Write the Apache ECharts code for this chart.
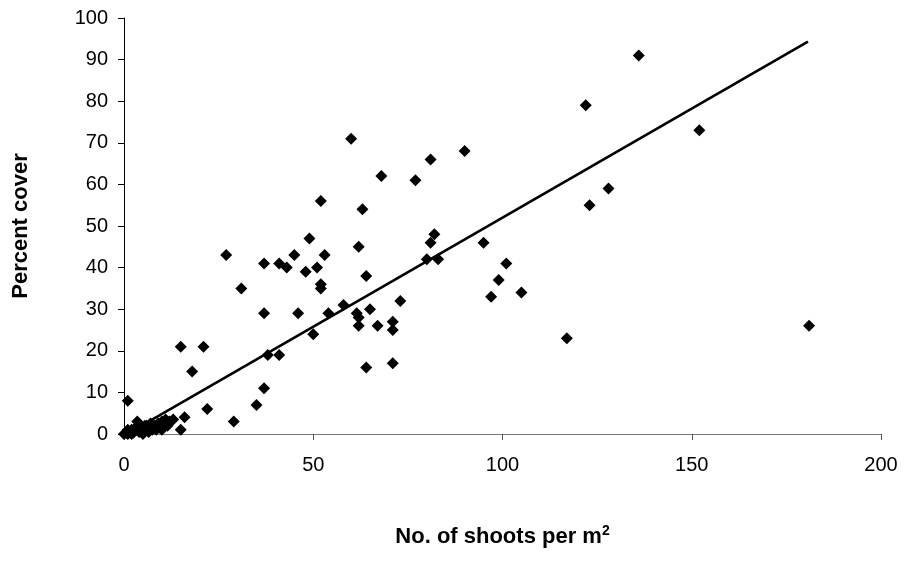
<!DOCTYPE html>
<html>
<head>
<meta charset="utf-8">
<script src="https://cdn.jsdelivr.net/npm/echarts@6/dist/echarts.min.js"></script>
<style>html,body{margin:0;padding:0;background:#fff}#c{width:904px;height:561px}</style>
</head>
<body>
<div id="c"></div>
<script>
// shoots per m2 (x) and percent cover (y)
var shootsX = [
  0, 0.5, 1, 1, 1.5, 2, 2, 2.5, 3, 3.5, 4, 4, 4.5, 5, 5, 5.5, 6, 6, 6.5, 7, 7, 7.5, 8, 8.5, 9, 9.5, 10, 10, 11, 11.5, 12, 13,
  1, 15, 16, 15, 18, 21, 22, 29, 27, 31, 35, 37, 37, 37, 38, 41, 41, 43, 45, 46, 48, 49, 50, 51, 52, 52, 52, 53, 54, 58,
  60, 61.5, 62, 62, 62, 63, 64, 64, 65, 67, 68, 71, 71, 71, 73, 77, 80, 81, 81, 82, 83, 90, 95, 97, 99, 101, 105,
  117, 122, 123, 128, 136, 152, 181
];
var coverY = [
  0, 0.3, 0, 1, 0.5, 0, 1, 0.3, 1.5, 3, 0.5, 2, 1, 0, 1.5, 2, 1, 2, 0.5, 1.5, 2.5, 1, 2, 1, 2.5, 1.5, 3, 1, 3.5, 2, 3, 3.5,
  8, 21, 4, 1, 15, 21, 6, 3, 43, 35, 7, 41, 29, 11, 19, 41, 19, 40, 43, 29, 39, 47, 24, 40, 56, 36, 35, 43, 29, 31,
  71, 29, 45, 28, 26, 54, 38, 16, 30, 26, 62, 27, 25, 17, 32, 61, 42, 66, 46, 48, 42, 68, 46, 33, 37, 41, 34,
  23, 79, 55, 59, 91, 73, 26
];
// fitted trend line end points
var trendX = [1, 180.7];
var trendY = [0.1, 94.3];
var xTicks = [0, 50, 100, 150, 200];
var yTicks = [0, 10, 20, 30, 40, 50, 60, 70, 80, 90, 100];

var pts = shootsX.map(function (x, i) { return [x, coverY[i]]; });
var trend = trendX.map(function (x, i) { return [x, trendY[i]]; });
var FF = 'Liberation Sans, Arial, sans-serif';

var chart = echarts.init(document.getElementById('c'), null, {renderer: 'canvas'});
chart.setOption({
  animation: false,
  backgroundColor: '#fff',
  grid: {left: 124, right: 23, top: 18, bottom: 127, containLabel: false},
  xAxis: {
    type: 'value', min: xTicks[0], max: xTicks[xTicks.length - 1], interval: 50,
    name: '{a|No. of shoots per m}{s|2}',
    nameLocation: 'middle', nameGap: 90,
    nameTextStyle: {
      rich: {
        a: {fontFamily: FF, fontWeight: 'bold', fontSize: 22, color: '#000'},
        s: {fontFamily: FF, fontWeight: 'bold', fontSize: 14, color: '#000', verticalAlign: 'top', padding: [0, 0, 12, 0]}
      }
    },
    axisLine: {show: true, onZero: false, lineStyle: {color: '#777', width: 1}},
    axisTick: {show: true, length: 6, lineStyle: {color: '#555'}},
    axisLabel: {fontFamily: FF, fontSize: 20, color: '#000', margin: 21},
    splitLine: {show: false}
  },
  yAxis: {
    type: 'value', min: yTicks[0], max: yTicks[yTicks.length - 1], interval: 10,
    name: 'Percent cover', nameLocation: 'middle', nameGap: 92, nameRotate: 90,
    nameTextStyle: {fontFamily: FF, fontWeight: 'bold', fontSize: 22, color: '#000'},
    axisLine: {show: true, lineStyle: {color: '#000', width: 1}},
    axisTick: {show: true, length: 6, lineStyle: {color: '#000'}},
    axisLabel: {fontFamily: FF, fontSize: 20, color: '#000', margin: 16},
    splitLine: {show: false}
  },
  series: [
    {
      type: 'scatter', data: pts, symbol: 'diamond', symbolSize: 12,
      itemStyle: {color: '#000', opacity: 1}, z: 3
    },
    {
      type: 'line', data: trend, symbol: 'none', showSymbol: false,
      lineStyle: {color: '#000', width: 2.6}, z: 4, clip: false
    }
  ]
});
</script>
</body>
</html>
